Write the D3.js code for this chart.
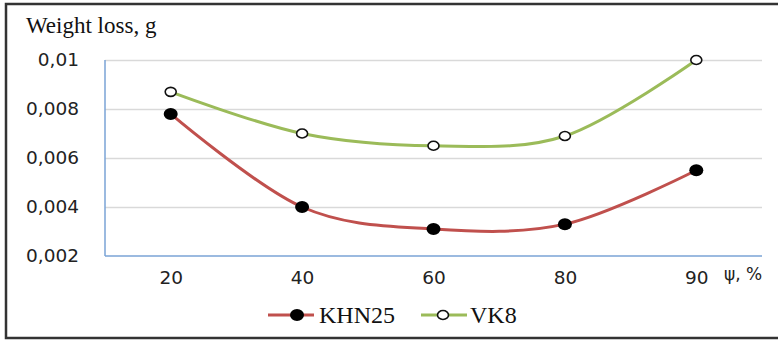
<!DOCTYPE html>
<html>
<head>
<meta charset="utf-8">
<script src="https://cdn.jsdelivr.net/npm/d3@7"></script>
<style>
  body { margin: 0; background: #fff; }
</style>
</head>
<body>
<div id="chart"></div>
<script>
var width = 778, height = 341

// data
var categories = ['20', '40', '60', '80', '90']
var khn25 = [0.0078, 0.0040, 0.0031, 0.0033, 0.0055]
var vk8 = [0.0087, 0.0070, 0.0065, 0.0069, 0.0100]
var yTicks = [0.002, 0.004, 0.006, 0.008, 0.01]
var yTickLabels = ['0,002', '0,004', '0,006', '0,008', '0,01']

var margin = {top: 60, right: 16, bottom: 85, left: 105}
var sansFont = 'DejaVu Sans'
var serifFont = 'Liberation Serif'

var svg = d3.select("#chart")
  .append("svg")
  .attr("width", width)
  .attr("height", height)

// outer frame (runs off the right edge)
svg.append("rect")
  .attr("x", 6)
  .attr("y", 4)
  .attr("width", 820)
  .attr("height", 334)
  .attr("fill", "none")
  .attr("stroke", "#333")
  .attr("stroke-width", 2.5)

var xScale = d3.scalePoint()
  .domain(categories)
  .range([margin.left, width - margin.right])
  .padding(0.5)

var yScale = d3.scaleLinear()
  .domain([0.002, 0.01])
  .range([height - margin.bottom, margin.top])

// Y grid
svg.append("g")
  .attr("class", "grid")
  .attr("transform", `translate(${margin.left},0)`)
  .call(d3.axisLeft(yScale)
    .tickValues(yTicks.slice(1))
    .tickSize(-(width - margin.right - margin.left))
    .tickFormat(""))
  .call(g => g.select(".domain").remove())
  .selectAll("line")
  .attr("stroke", "#d9d9d9")
  .attr("stroke-width", 1.5)

// Y tick labels
svg.append("g")
  .attr("transform", `translate(${margin.left},0)`)
  .call(d3.axisLeft(yScale)
    .tickValues(yTicks)
    .tickSize(0)
    .tickPadding(26)
    .tickFormat((d, i) => yTickLabels[i]))
  .call(g => g.select(".domain").remove())
  .attr("font-family", sansFont)
  .attr("font-size", 18.5)
  .selectAll("text")
  .attr("fill", "#222")

// axis lines
svg.append("line")
  .attr("x1", margin.left).attr("x2", margin.left)
  .attr("y1", yScale(0.01)).attr("y2", yScale(0.002))
  .attr("stroke", "#7aa3d6").attr("stroke-width", 1.5)

svg.append("line")
  .attr("x1", margin.left).attr("x2", width - margin.right)
  .attr("y1", yScale(0.002)).attr("y2", yScale(0.002))
  .attr("stroke", "#7aa3d6").attr("stroke-width", 1.5)

// X axis labels
svg.append("g")
  .attr("transform", `translate(0,${yScale(0.002)})`)
  .call(d3.axisBottom(xScale).tickSize(0).tickPadding(15))
  .call(g => g.select(".domain").remove())
  .attr("font-family", sansFont)
  .attr("font-size", 18.5)
  .selectAll("text")
  .attr("fill", "#222")

svg.append("text")
  .attr("x", 724)
  .attr("y", 280)
  .attr("font-family", sansFont)
  .attr("font-size", 17)
  .attr("fill", "#222")
  .text("ψ, %")

svg.append("text")
  .attr("x", 26)
  .attr("y", 33)
  .attr("font-family", serifFont)
  .attr("font-size", 23)
  .attr("fill", "#111")
  .text("Weight loss, g")

var series = [
  {name: 'KHN25', values: khn25, color: '#c0504d', fill: '#000', rx: 7, ry: 6},
  {name: 'VK8', values: vk8, color: '#9bbb59', fill: '#fff', rx: 5.5, ry: 4.5}
]

var line = d3.line()
  .x((d, i) => xScale(categories[i]))
  .y(d => yScale(d))
  .curve(d3.curveCardinal.tension(0))

series.forEach(function(s) {
  svg.append("path")
    .attr("class", "line")
    .attr("d", line(s.values))
    .attr("fill", "none")
    .attr("stroke", s.color)
    .attr("stroke-width", 3)

  svg.selectAll(".dot-" + s.name)
    .data(s.values)
    .enter()
    .append("ellipse")
    .attr("class", "dot-" + s.name)
    .attr("cx", (d, i) => xScale(categories[i]))
    .attr("cy", d => yScale(d))
    .attr("rx", s.rx)
    .attr("ry", s.ry)
    .attr("fill", s.fill)
    .attr("stroke", "#111")
    .attr("stroke-width", s.fill === '#000' ? 0 : 1.6)
})

// legend
var legendX = [268, 421]
series.forEach(function(s, i) {
  var g = svg.append("g")
    .attr("transform", `translate(${legendX[i]},315)`)
  g.append("line")
    .attr("x1", 0).attr("x2", 46)
    .attr("stroke", s.color)
    .attr("stroke-width", 3)
  g.append("ellipse")
    .attr("cx", i === 0 ? 29 : 22)
    .attr("rx", s.rx)
    .attr("ry", s.ry)
    .attr("fill", s.fill)
    .attr("stroke", "#111")
    .attr("stroke-width", s.fill === '#000' ? 0 : 1.6)
  g.append("text")
    .attr("x", i === 0 ? 51 : 49)
    .attr("y", 8)
    .attr("font-family", serifFont)
    .attr("font-size", 24)
    .attr("fill", "#111")
    .text(s.name)
})
</script>
</body>
</html>
